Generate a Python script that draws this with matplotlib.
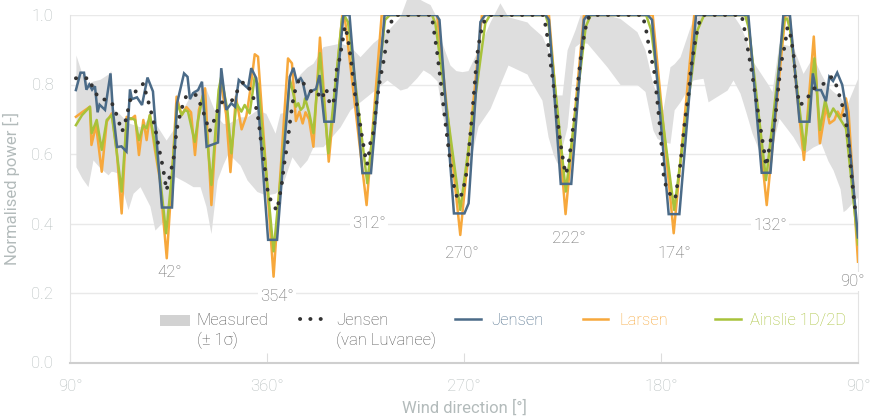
import matplotlib
matplotlib.use("Agg")
import matplotlib.pyplot as plt
from matplotlib.patches import Rectangle

plt.rcParams['font.family'] = ['Roboto', 'DejaVu Sans']
plt.rcParams['font.weight'] = 'light'

# x = position along the axis in degrees (0 = 90°, 90 = 360°, ... 360 = 90°)
tick_pos = [0, 90, 180, 270, 360]
tick_labels = ['90°', '360°', '270°', '180°', '90°']

# measured mean +/- 1 sigma
band_x = [2.7, 5.5, 8.2, 10.5, 13.7, 17.4, 18.7, 19.6, 21.9, 26.5, 28.8, 32.0, 36.5, 38.8,
          43.9, 48.0, 52.5, 56.2, 59.4, 62.1, 64.4, 67.2, 69.9, 72.2, 77.7, 80.9, 85.4,
          89.5, 93.7, 95.9, 97.8, 101.4, 105.1, 108.3, 111.0, 115.6, 123.4, 127.9, 132.5,
          138.4, 144.8, 150.8, 154.0, 158.5, 161.3, 164.5, 167.7, 169.9, 173.6, 176.3,
          179.1, 181.8, 186.4, 191.9, 196.4, 200.1, 208.8, 210.2, 215.6, 218.4, 220.7,
          222.5, 224.8, 227.1, 230.7, 233.0, 236.2, 245.3, 251.3, 259.0, 262.7, 266.3,
          268.2, 270.9, 274.1, 276.0, 278.7, 284.6, 289.2, 291.5, 300.2, 302.9, 306.1,
          308.8, 311.6, 316.6, 318.9, 320.7, 323.9, 330.3, 334.9, 339.4, 343.1, 346.3,
          348.6, 351.8, 353.2, 354.5, 360.0]
band_hi = [0.885, 0.83, 0.803, 0.81, 0.815, 0.83, 0.84, 0.73, 0.72, 0.69, 0.685, 0.678,
           0.707, 0.69, 0.64, 0.678, 0.74, 0.784, 0.79, 0.789, 0.75, 0.707, 0.688, 0.688,
           0.707, 0.707, 0.727, 0.717, 0.66, 0.717, 0.72, 0.80, 0.83, 0.85, 0.861, 0.909,
           0.919, 0.91, 0.88, 0.92, 0.953, 0.995, 1.05, 1.05, 1.04, 1.03, 0.99, 0.92,
           0.856, 0.84, 0.837, 0.84, 0.90, 0.98, 1.035, 0.995, 0.98, 0.97, 0.94, 0.90,
           0.775, 0.77, 0.77, 0.90, 0.957, 1.0, 1.0, 1.0, 0.99, 0.952, 0.90, 0.80, 0.775,
           0.727, 0.851, 0.86, 0.88, 0.99, 1.0, 1.0, 1.0, 1.0, 0.97, 0.93, 0.87, 0.822,
           0.80, 0.78, 0.919, 0.909, 0.832, 0.88, 0.83, 0.794, 0.78, 0.765, 0.75, 0.736,
           0.82]
band_lo = [0.563, 0.53, 0.506, 0.583, 0.56, 0.54, 0.55, 0.55, 0.545, 0.44, 0.487, 0.506,
           0.45, 0.381, 0.415, 0.535, 0.52, 0.506, 0.506, 0.45, 0.371, 0.525, 0.57, 0.602,
           0.568, 0.525, 0.492, 0.482, 0.487, 0.50, 0.525, 0.592, 0.56, 0.583, 0.62, 0.621,
           0.678, 0.727, 0.75, 0.78, 0.813, 0.784, 0.79, 0.82, 0.842, 0.83, 0.81, 0.72,
           0.61, 0.52, 0.48, 0.55, 0.68, 0.731, 0.80, 0.856, 0.83, 0.813, 0.755, 0.65,
           0.60, 0.573, 0.62, 0.678, 0.909, 0.92, 0.919, 0.851, 0.80, 0.80, 0.78, 0.669,
           0.645, 0.635, 0.631, 0.727, 0.75, 0.813, 0.818, 0.75, 0.784, 0.813, 0.775, 0.72,
           0.66, 0.58, 0.54, 0.62, 0.703, 0.65, 0.60, 0.62, 0.631, 0.58, 0.554, 0.50,
           0.434, 0.44, 0.477]

# Jensen (van Luvanee)
jvl_x = [2.7, 8.7, 10.5, 13.2, 18.7, 20.6, 22.2, 23.8, 25.4, 26.5, 27.6, 30.2, 33.6, 34.7,
         36.5, 38.8, 40.7, 42.5, 44.1, 45.0, 46.1, 47.3, 48.4, 49.3, 51.4, 53.0, 57.6,
         59.4, 61.4, 63.7, 65.6, 67.2, 69.0, 74.2, 76.5, 79.3, 82.2, 84.5, 86.1, 87.3,
         88.9, 90.5, 92.5, 94.6, 95.5, 96.9, 97.8, 99.4, 100.7, 102.1, 103.5, 105.1,
         106.7, 109.6, 111.0, 112.8, 114.9, 117.0, 118.8, 120.4, 121.8, 123.1, 125.0,
         125.6, 126.8, 128.4, 130.0, 131.8, 133.4, 134.8, 135.7, 136.4, 137.1, 138.7,
         140.0, 141.6, 143.5, 145.1, 146.2, 147.8, 148.9, 165.2, 166.2, 167.7, 169.5,
         171.3, 173.6, 175.9, 177.6, 179.5, 181.4, 182.3, 183.7, 185.0, 185.9, 187.4,
         188.7, 190.5, 191.9, 216.1, 217.6, 218.8, 220.7, 222.3, 224.1, 225.7, 226.5,
         227.7, 229.0, 230.7, 232.2, 233.3, 234.8, 235.7, 237.1, 238.5, 261.6, 263.2,
         264.7, 266.9, 268.5, 270.0, 271.1, 272.0, 273.5, 276.5, 277.2, 278.7, 280.8,
         282.7, 283.7, 285.2, 286.8, 288.3, 289.6, 306.8, 307.9, 309.6, 311.4, 313.7,
         316.0, 317.5, 318.0, 318.7, 319.8, 322.1, 323.6, 324.7, 326.7, 327.8, 329.3,
         330.8, 331.5, 332.3, 333.5, 336.5, 338.8, 342.6, 344.9, 347.9, 350.2, 353.0,
         355.1, 356.6, 358.1, 358.8]
jvl_y = [0.818, 0.818, 0.789, 0.76, 0.753, 0.725, 0.695, 0.664, 0.696, 0.727, 0.757, 0.782,
         0.803, 0.775, 0.735, 0.678, 0.615, 0.56, 0.495, 0.52, 0.55, 0.585, 0.65, 0.69,
         0.738, 0.765, 0.77, 0.746, 0.712, 0.664, 0.693, 0.722, 0.748, 0.755, 0.782, 0.808,
         0.786, 0.75, 0.698, 0.633, 0.565, 0.485, 0.456, 0.437, 0.468, 0.52, 0.568, 0.633,
         0.703, 0.763, 0.799, 0.818, 0.803, 0.784, 0.775, 0.779, 0.757, 0.789, 0.741, 0.748,
         0.842, 0.872, 0.942, 0.968, 0.939, 0.87, 0.779, 0.717, 0.65, 0.597, 0.57, 0.592,
         0.629, 0.664, 0.746, 0.813, 0.875, 0.947, 0.971, 0.995, 1.0, 1.0, 0.957, 0.894,
         0.80, 0.70, 0.583, 0.489, 0.468, 0.492, 0.554, 0.616, 0.712, 0.813, 0.88, 0.942,
         0.975, 0.995, 1.0, 1.0, 0.961, 0.897, 0.808, 0.717, 0.63, 0.565, 0.542, 0.568,
         0.633, 0.722, 0.813, 0.875, 0.938, 0.967, 0.995, 1.0, 1.0, 0.957, 0.901, 0.837,
         0.741, 0.645, 0.544, 0.514, 0.489, 0.47, 0.501, 0.563, 0.688, 0.779, 0.847, 0.909,
         0.964, 0.995, 1.0, 1.0, 0.967, 0.904, 0.839, 0.746, 0.655, 0.592, 0.565, 0.585,
         0.631, 0.698, 0.789, 0.856, 0.917, 0.965, 0.938, 0.875, 0.808, 0.775, 0.741, 0.755,
         0.784, 0.799, 0.803, 0.822, 0.796, 0.736, 0.669, 0.568, 0.472, 0.435]

# Jensen
jen_x = [2.7, 4.8, 6.4, 7.5, 8.8, 10.1, 11.4, 12.6, 13.5, 16.0, 18.5, 19.6, 21.5, 23.5,
         25.8, 27.4, 28.3, 30.6, 32.9, 35.4, 37.9, 39.1, 42.0, 46.6, 48.9, 52.1, 53.7,
         54.8, 56.2, 58.5, 60.3, 62.4, 67.6, 69.1, 71.4, 73.7, 75.4, 77.1, 81.3, 82.8,
         85.1, 90.5, 94.6, 100.4, 102.1, 103.6, 105.4, 106.3, 108.1, 109.6, 112.4, 114.0,
         116.2, 120.5, 124.9, 127.7, 133.6, 137.5, 143.7, 167.4, 168.8, 175.4, 180.2,
         182.1, 187.5, 189.7, 217.3, 218.8, 224.2, 229.0, 234.8, 236.3, 263.9, 265.9,
         273.5, 278.4, 286.0, 309.9, 316.0, 320.0, 325.9, 328.9, 333.3, 337.8, 339.4,
         340.8, 343.1, 345.4, 346.9, 348.6, 350.5, 352.8, 354.7, 360.0]
jen_y = [0.784, 0.834, 0.834, 0.785, 0.80, 0.785, 0.795, 0.72, 0.742, 0.727, 0.832, 0.725,
         0.62, 0.622, 0.607, 0.786, 0.758, 0.763, 0.741, 0.82, 0.78, 0.678, 0.446, 0.446,
         0.746, 0.832, 0.822, 0.758, 0.775, 0.784, 0.808, 0.621, 0.633, 0.847, 0.727, 0.746,
         0.736, 0.813, 0.789, 0.847, 0.818, 0.353, 0.353, 0.822, 0.848, 0.808, 0.818, 0.808,
         0.755, 0.779, 0.787, 0.827, 0.693, 0.693, 1.0, 1.0, 0.545, 0.545, 1.0, 1.0, 0.986,
         0.429, 0.429, 0.458, 0.98, 1.0, 1.0, 0.986, 0.514, 0.514, 0.986, 1.0, 1.0, 0.986,
         0.427, 0.427, 1.0, 1.0, 0.546, 0.546, 1.0, 1.0, 0.693, 0.693, 0.832, 0.784, 0.784,
         0.752, 0.822, 0.81, 0.834, 0.799, 0.727, 0.36]

# Larsen
lar_x = [2.7, 5.5, 9.1, 9.8, 11.9, 14.5, 16.8, 19.1, 21.3, 23.6, 25.9, 27.9, 29.7, 31.5,
         33.5, 35.0, 36.5, 38.8, 41.1, 44.2, 46.5, 48.7, 51.0, 53.2, 55.3, 57.1, 58.9,
         61.7, 64.6, 67.0, 68.8, 71.3, 73.3, 75.8, 78.4, 80.6, 82.5, 84.4, 85.9, 93.0,
         99.6, 101.4, 103.2, 104.8, 106.3, 107.6, 109.2, 111.2, 114.2, 118.2, 124.4, 125.4,
         135.5, 142.4, 167.7, 178.3, 188.2, 218.8, 226.4, 234.8, 266.2, 275.8, 285.2,
         309.5, 318.3, 326.8, 328.7, 332.9, 335.3, 339.8, 342.6, 345.4, 347.0, 349.2,
         350.7, 352.3, 354.5, 355.7, 360.0]
lar_y = [0.707, 0.72, 0.736, 0.626, 0.683, 0.549, 0.693, 0.717, 0.612, 0.429, 0.707, 0.70,
         0.71, 0.597, 0.698, 0.64, 0.712, 0.612, 0.525, 0.30, 0.525, 0.765, 0.712, 0.735,
         0.72, 0.597, 0.727, 0.789, 0.453, 0.703, 0.81, 0.715, 0.548, 0.765, 0.671, 0.71,
         0.79, 0.887, 0.88, 0.247, 0.875, 0.861, 0.695, 0.722, 0.688, 0.72, 0.70, 0.621,
         0.935, 0.578, 1.0, 1.0, 0.453, 1.0, 1.0, 0.367, 1.0, 1.0, 0.427, 1.0, 1.0, 0.372,
         1.0, 1.0, 0.453, 1.0, 1.0, 0.727, 0.583, 0.938, 0.631, 0.736, 0.688, 0.698, 0.722,
         0.705, 0.76, 0.72, 0.29]

# Ainslie 1D/2D
ain_x = [2.7, 5.5, 9.1, 9.9, 12.2, 14.5, 16.8, 19.1, 21.3, 23.6, 25.9, 27.9, 29.7, 31.5,
         33.5, 35.0, 36.5, 38.5, 41.1, 43.9, 46.5, 49.0, 51.0, 52.5, 53.9, 57.0, 58.5,
         60.8, 64.6, 67.9, 69.1, 71.9, 73.7, 76.0, 78.3, 79.8, 82.1, 84.4, 85.9, 93.0,
         100.5, 102.0, 103.2, 104.3, 105.4, 106.6, 107.4, 109.2, 111.2, 114.2, 118.0,
         124.3, 125.6, 127.0, 135.8, 143.9, 146.2, 165.4, 166.9, 178.3, 189.7, 191.9,
         217.3, 218.8, 226.5, 235.6, 237.9, 263.2, 265.5, 276.0, 286.7, 289.7, 308.4,
         310.2, 318.0, 326.2, 327.6, 328.9, 333.2, 335.5, 340.1, 342.6, 345.0, 346.9,
         348.7, 350.7, 354.5, 360.0]
ain_y = [0.683, 0.712, 0.736, 0.66, 0.698, 0.612, 0.698, 0.712, 0.607, 0.492, 0.698, 0.703,
         0.698, 0.64, 0.683, 0.674, 0.712, 0.64, 0.535, 0.372, 0.535, 0.746, 0.712, 0.727,
         0.722, 0.635, 0.698, 0.77, 0.511, 0.784, 0.822, 0.727, 0.602, 0.746, 0.722, 0.741,
         0.717, 0.822, 0.80, 0.32, 0.813, 0.775, 0.736, 0.746, 0.727, 0.735, 0.76, 0.72,
         0.66, 0.89, 0.602, 0.99, 0.995, 0.98, 0.516, 0.986, 1.0, 1.0, 0.976, 0.439, 0.976,
         1.0, 1.0, 0.966, 0.492, 0.966, 1.0, 1.0, 0.957, 0.439, 0.957, 1.0, 1.0, 0.96,
         0.525, 0.985, 0.99, 0.96, 0.736, 0.612, 0.875, 0.669, 0.755, 0.707, 0.731, 0.712,
         0.674, 0.34]

# direction labels at the wake minima
ann_text = ['42°', '354°', '312°', '270°', '222°', '174°', '132°', '90°']
ann_x = [45.7, 94.6, 136.6, 179.1, 228.0, 275.9, 319.8, 357.3]
ann_y = [0.258, 0.191, 0.401, 0.315, 0.358, 0.315, 0.393, 0.232]

c_band = '#dedede'
c_dots = '#333333'
c_jen = '#4b6b88'
c_lar = '#f7a83c'
c_ain = '#a8c23a'
c_axis = '#b3bbbb'
dotted = (0, (0.05, 2.6))

fig = plt.figure(figsize=(8.74, 4.18), dpi=100)
ax = fig.add_axes([70 / 874, 55.5 / 418, 788 / 874, 347.5 / 418])

ax.fill_between(band_x, band_lo, band_hi, color=c_band, lw=0, zorder=1, clip_on=False)
ax.plot(lar_x, lar_y, color=c_lar, lw=1.8, zorder=3)
ax.plot(ain_x, ain_y, color=c_ain, lw=1.8, zorder=4)
ax.plot(jen_x, jen_y, color=c_jen, lw=1.8, zorder=5, solid_joinstyle='miter')
ax.plot(jvl_x, jvl_y, color=c_dots, lw=2.8, ls=dotted, dash_capstyle='round', zorder=6)

for t, x, y in zip(ann_text, ann_x, ann_y):
    ax.text(x, y, t, ha='center', va='center', fontsize=12, color='#6a6a6a', zorder=7,
            bbox=dict(facecolor='white', edgecolor='none', pad=1.5))

ax.set_xlim(0, 360)
ax.set_ylim(0, 1)
ax.set_xticks(tick_pos)
ax.set_xticklabels(tick_labels)
ax.set_yticks([0, 0.2, 0.4, 0.6, 0.8, 1.0])
ax.set_yticklabels(['0.0', '0.2', '0.4', '0.6', '0.8', '1.0'])
ax.yaxis.grid(True, color='#e9e9e9', lw=1, zorder=0)
ax.set_axisbelow(True)
ax.tick_params(axis='x', direction='in', length=7, color='#dddddd', labelsize=12,
               labelcolor=c_axis, pad=12)
ax.tick_params(axis='y', length=0, labelsize=12, labelcolor=c_axis, pad=12)
for s in ['left', 'right']:
    ax.spines[s].set_color('#e3e3e3')
ax.spines['top'].set_visible(False)
ax.spines['bottom'].set_color('#cfcfcf')
ax.spines['bottom'].set_linewidth(1.5)

ax.set_xlabel('Wind direction [°]', fontsize=12, color=c_axis, labelpad=4)
ax.set_ylabel('Normalised power [-]', fontsize=12, color=c_axis, labelpad=8)

# hand-placed legend (axes fraction coordinates), handle on the first text line
tr = ax.transAxes
row1, row2 = 0.122, 0.064
ax.add_patch(Rectangle((0.114, row1 - 0.016), 0.038, 0.032, transform=tr,
                       facecolor='#d2d2d2', edgecolor='none', clip_on=False, zorder=8))
ax.plot([0.292, 0.323], [row1 + 0.004] * 2, transform=tr, color=c_dots, lw=2.8, ls=dotted,
        dash_capstyle='round', clip_on=False, zorder=8)
ax.plot([0.489, 0.521], [row1 + 0.004] * 2, transform=tr, color=c_jen, lw=1.8,
        clip_on=False, zorder=8)
ax.plot([0.651, 0.683], [row1 + 0.004] * 2, transform=tr, color=c_lar, lw=1.8,
        clip_on=False, zorder=8)
ax.plot([0.819, 0.851], [row1 + 0.004] * 2, transform=tr, color=c_ain, lw=1.8,
        clip_on=False, zorder=8)
leg_items = [(0.161, 'Measured', '(± 1σ)', '#555555'),
             (0.338, 'Jensen', '(van Luvanee)', '#555555'),
             (0.534, 'Jensen', None, c_jen),
             (0.697, 'Larsen', None, c_lar),
             (0.863, 'Ainslie 1D/2D', None, c_ain)]
for lx, l1, l2, col in leg_items:
    ax.text(lx, row1, l1, transform=tr, ha='left', va='center', fontsize=12, color=col)
    if l2:
        ax.text(lx, row2, l2, transform=tr, ha='left', va='center', fontsize=12, color=col)

fig.savefig('out.png', dpi=100)
